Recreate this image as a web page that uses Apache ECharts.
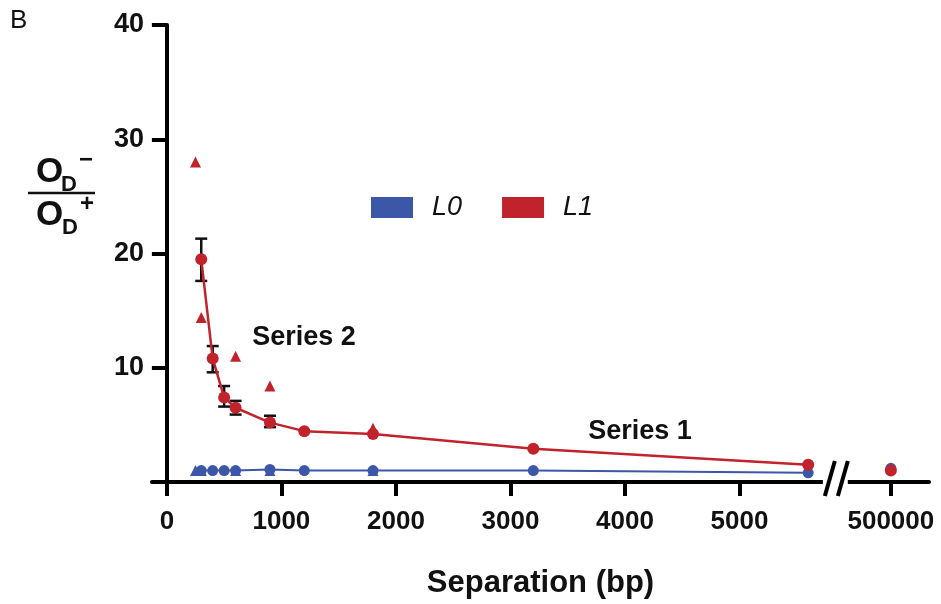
<!DOCTYPE html>
<html>
<head>
<meta charset="utf-8">
<script src="https://cdn.jsdelivr.net/npm/echarts@6/dist/echarts.min.js"></script>
<style>
  html, body { margin: 0; padding: 0; background: #fff; }
  #main { width: 941px; height: 604px; }
</style>
</head>
<body>
<div id="main"></div>
<script>
// 数据
var xMean = [300, 400, 500, 600, 900, 1200, 1800, 3200, 5600];
var l1Mean = [19.5, 10.8, 7.4, 6.5, 5.2, 4.45, 4.2, 2.9, 1.5];
var l0Mean = [1.0, 1.0, 1.0, 1.0, 1.1, 1.0, 1.0, 1.0, 0.8];
var xErr = [300, 400, 500, 600, 900];
var l1Low = [17.6, 9.6, 6.6, 5.9, 4.8];
var l1High = [21.3, 11.9, 8.4, 7.1, 5.8];
var xTri = [250, 300, 600, 900, 1800];
var l1Tri = [28.0, 14.4, 11.0, 8.4, 4.7];
var l0Tri = [1.0, 1.0, 1.0, 1.0, 1.0];
var xFar = [500000];
var l1Far = [1.0];
var l0Far = [1.2];
var xTicks = [0, 1000, 2000, 3000, 4000, 5000, 500000];
var yTicks = [10, 20, 30, 40];

// 断轴：把 500000 画到 BREAK_POS
var BREAK_POS = 6322;
var GAP_START = 5728, GAP_END = 5946;
function mapX(v) { return v > 10000 ? BREAK_POS : v; }
function pairs(xs, ys) { return xs.map(function (x, i) { return [mapX(x), ys[i]]; }); }

var BLUE = '#3c56a8';
var RED = '#c1232c';
var FONT = "'Liberation Sans', Arial, sans-serif";

var myChart = echarts.init(document.getElementById('main'));

var option = {
  animation: false,
  grid: { left: 152, right: 12, top: 25, bottom: 121 },
  legend: {
    left: 366,
    top: 189,
    itemWidth: 42,
    itemHeight: 21,
    itemGap: 40,
    icon: 'rect',
    data: [
      { name: 'L0', itemStyle: { color: BLUE, borderWidth: 0 } },
      { name: 'L1', itemStyle: { color: RED, borderWidth: 0 } }
    ],
    textStyle: { fontFamily: FONT, fontSize: 27, fontStyle: 'italic', color: '#111', padding: [0, 0, 0, 14] }
  },
  xAxis: {
    type: 'value',
    min: -130,
    max: 6655,
    splitLine: { show: false },
    axisLine: { lineStyle: { color: '#000', width: 4 } },
    axisTick: { length: 14, lineStyle: { color: '#000', width: 4 }, customValues: xTicks.map(mapX) },
    axisLabel: {
      customValues: xTicks.map(mapX),
      margin: 27,
      fontFamily: FONT, fontSize: 26, fontWeight: 'bold', color: '#111',
      formatter: function (v) { return v === BREAK_POS ? '500000' : String(v); }
    },
    name: 'Separation (bp)',
    nameLocation: 'middle',
    nameGap: 86,
    nameTextStyle: { fontFamily: FONT, fontSize: 31, fontWeight: 'bold', color: '#111' }
  },
  yAxis: {
    type: 'value',
    min: 0,
    max: 40,
    interval: 10,
    splitLine: { show: false },
    axisLine: { onZero: true, lineStyle: { color: '#000', width: 4 } },
    axisTick: { length: 15, lineStyle: { color: '#000', width: 4 }, customValues: yTicks },
    axisLabel: {
      customValues: yTicks,
      margin: 8,
      fontFamily: FONT, fontSize: 27, fontWeight: 'bold', color: '#111'
    }
  },
  series: [
    {
      // 误差线
      type: 'custom',
      z: 1,
      silent: true,
      data: xErr.map(function (x, i) { return [x, l1Low[i], l1High[i]]; }),
      renderItem: function (params, api) {
        var lo = api.coord([api.value(0), api.value(1)]);
        var hi = api.coord([api.value(0), api.value(2)]);
        var w = 6;
        var st = { stroke: '#111', lineWidth: 2.5 };
        return {
          type: 'group',
          children: [
            { type: 'line', shape: { x1: lo[0], y1: lo[1], x2: hi[0], y2: hi[1] }, style: st },
            { type: 'line', shape: { x1: lo[0] - w, y1: lo[1], x2: lo[0] + w, y2: lo[1] }, style: st },
            { type: 'line', shape: { x1: hi[0] - w, y1: hi[1], x2: hi[0] + w, y2: hi[1] }, style: st }
          ]
        };
      }
    },
    {
      name: 'L0', type: 'line', z: 3,
      data: pairs(xMean, l0Mean),
      symbol: 'circle', symbolSize: 11,
      lineStyle: { color: BLUE, width: 2 },
      itemStyle: { color: BLUE }
    },
    {
      name: 'L0', type: 'scatter', z: 3,
      data: pairs(xTri, l0Tri),
      symbol: 'triangle', symbolSize: 11,
      itemStyle: { color: BLUE, opacity: 1 }
    },
    {
      name: 'L0', type: 'scatter', z: 3,
      data: pairs(xFar, l0Far),
      symbol: 'circle', symbolSize: 11,
      itemStyle: { color: BLUE, opacity: 1 }
    },
    {
      name: 'L1', type: 'line', z: 4,
      data: pairs(xMean, l1Mean),
      symbol: 'circle', symbolSize: 12,
      lineStyle: { color: RED, width: 2.5 },
      itemStyle: { color: RED }
    },
    {
      name: 'L1', type: 'scatter', z: 4,
      data: pairs(xTri, l1Tri),
      symbol: 'triangle', symbolSize: 11,
      itemStyle: { color: RED, opacity: 1 }
    },
    {
      name: 'L1', type: 'scatter', z: 4,
      data: pairs(xFar, l1Far),
      symbol: 'circle', symbolSize: 12,
      itemStyle: { color: RED, opacity: 1 }
    }
  ]
};

myChart.setOption(option);

// 断轴标记、y 轴分式标题和文字注释
var g0 = myChart.convertToPixel({ xAxisIndex: 0 }, GAP_START);
var g1 = myChart.convertToPixel({ xAxisIndex: 0 }, GAP_END);
var y0 = myChart.convertToPixel({ yAxisIndex: 0 }, 0);
var slash = { stroke: '#000', lineWidth: 4 };
var big = 'bold 35px ' + FONT;
var small = 'bold 22px ' + FONT;

myChart.setOption({
  graphic: [
    { type: 'rect', z: 50, shape: { x: g0, y: y0 - 4, width: g1 - g0, height: 8 }, style: { fill: '#fff' } },
    { type: 'line', z: 51, shape: { x1: g0 + 2, y1: y0 + 14, x2: g0 + 12, y2: y0 - 21 }, style: slash },
    { type: 'line', z: 51, shape: { x1: g0 + 15, y1: y0 + 14, x2: g0 + 25, y2: y0 - 21 }, style: slash },

    { type: 'text', left: 10, top: 8, style: { text: 'B', font: '26px ' + FONT, fill: '#111' } },

    { type: 'text', x: 36, y: 155, style: { text: 'O', font: big, fill: '#111' } },
    { type: 'text', x: 61, y: 174, style: { text: 'D', font: small, fill: '#111' } },
    { type: 'text', x: 79, y: 148, style: { text: '\u2212', font: 'bold 24px ' + FONT, fill: '#111' } },
    { type: 'line', shape: { x1: 28, y1: 193, x2: 95, y2: 193 }, style: { stroke: '#111', lineWidth: 2.5 } },
    { type: 'text', x: 36, y: 198, style: { text: 'O', font: big, fill: '#111' } },
    { type: 'text', x: 62, y: 217, style: { text: 'D', font: small, fill: '#111' } },
    { type: 'text', x: 80, y: 192, style: { text: '+', font: 'bold 24px ' + FONT, fill: '#111' } },

    { type: 'text', x: 304, y: 338, style: { text: 'Series 2', font: 'bold 27px ' + FONT, fill: '#111', textAlign: 'center', textVerticalAlign: 'middle' } },
    { type: 'text', x: 640, y: 432, style: { text: 'Series 1', font: 'bold 27px ' + FONT, fill: '#111', textAlign: 'center', textVerticalAlign: 'middle' } }
  ]
});

window.addEventListener('resize', function () {
  myChart.resize();
});
</script>
</body>
</html>
